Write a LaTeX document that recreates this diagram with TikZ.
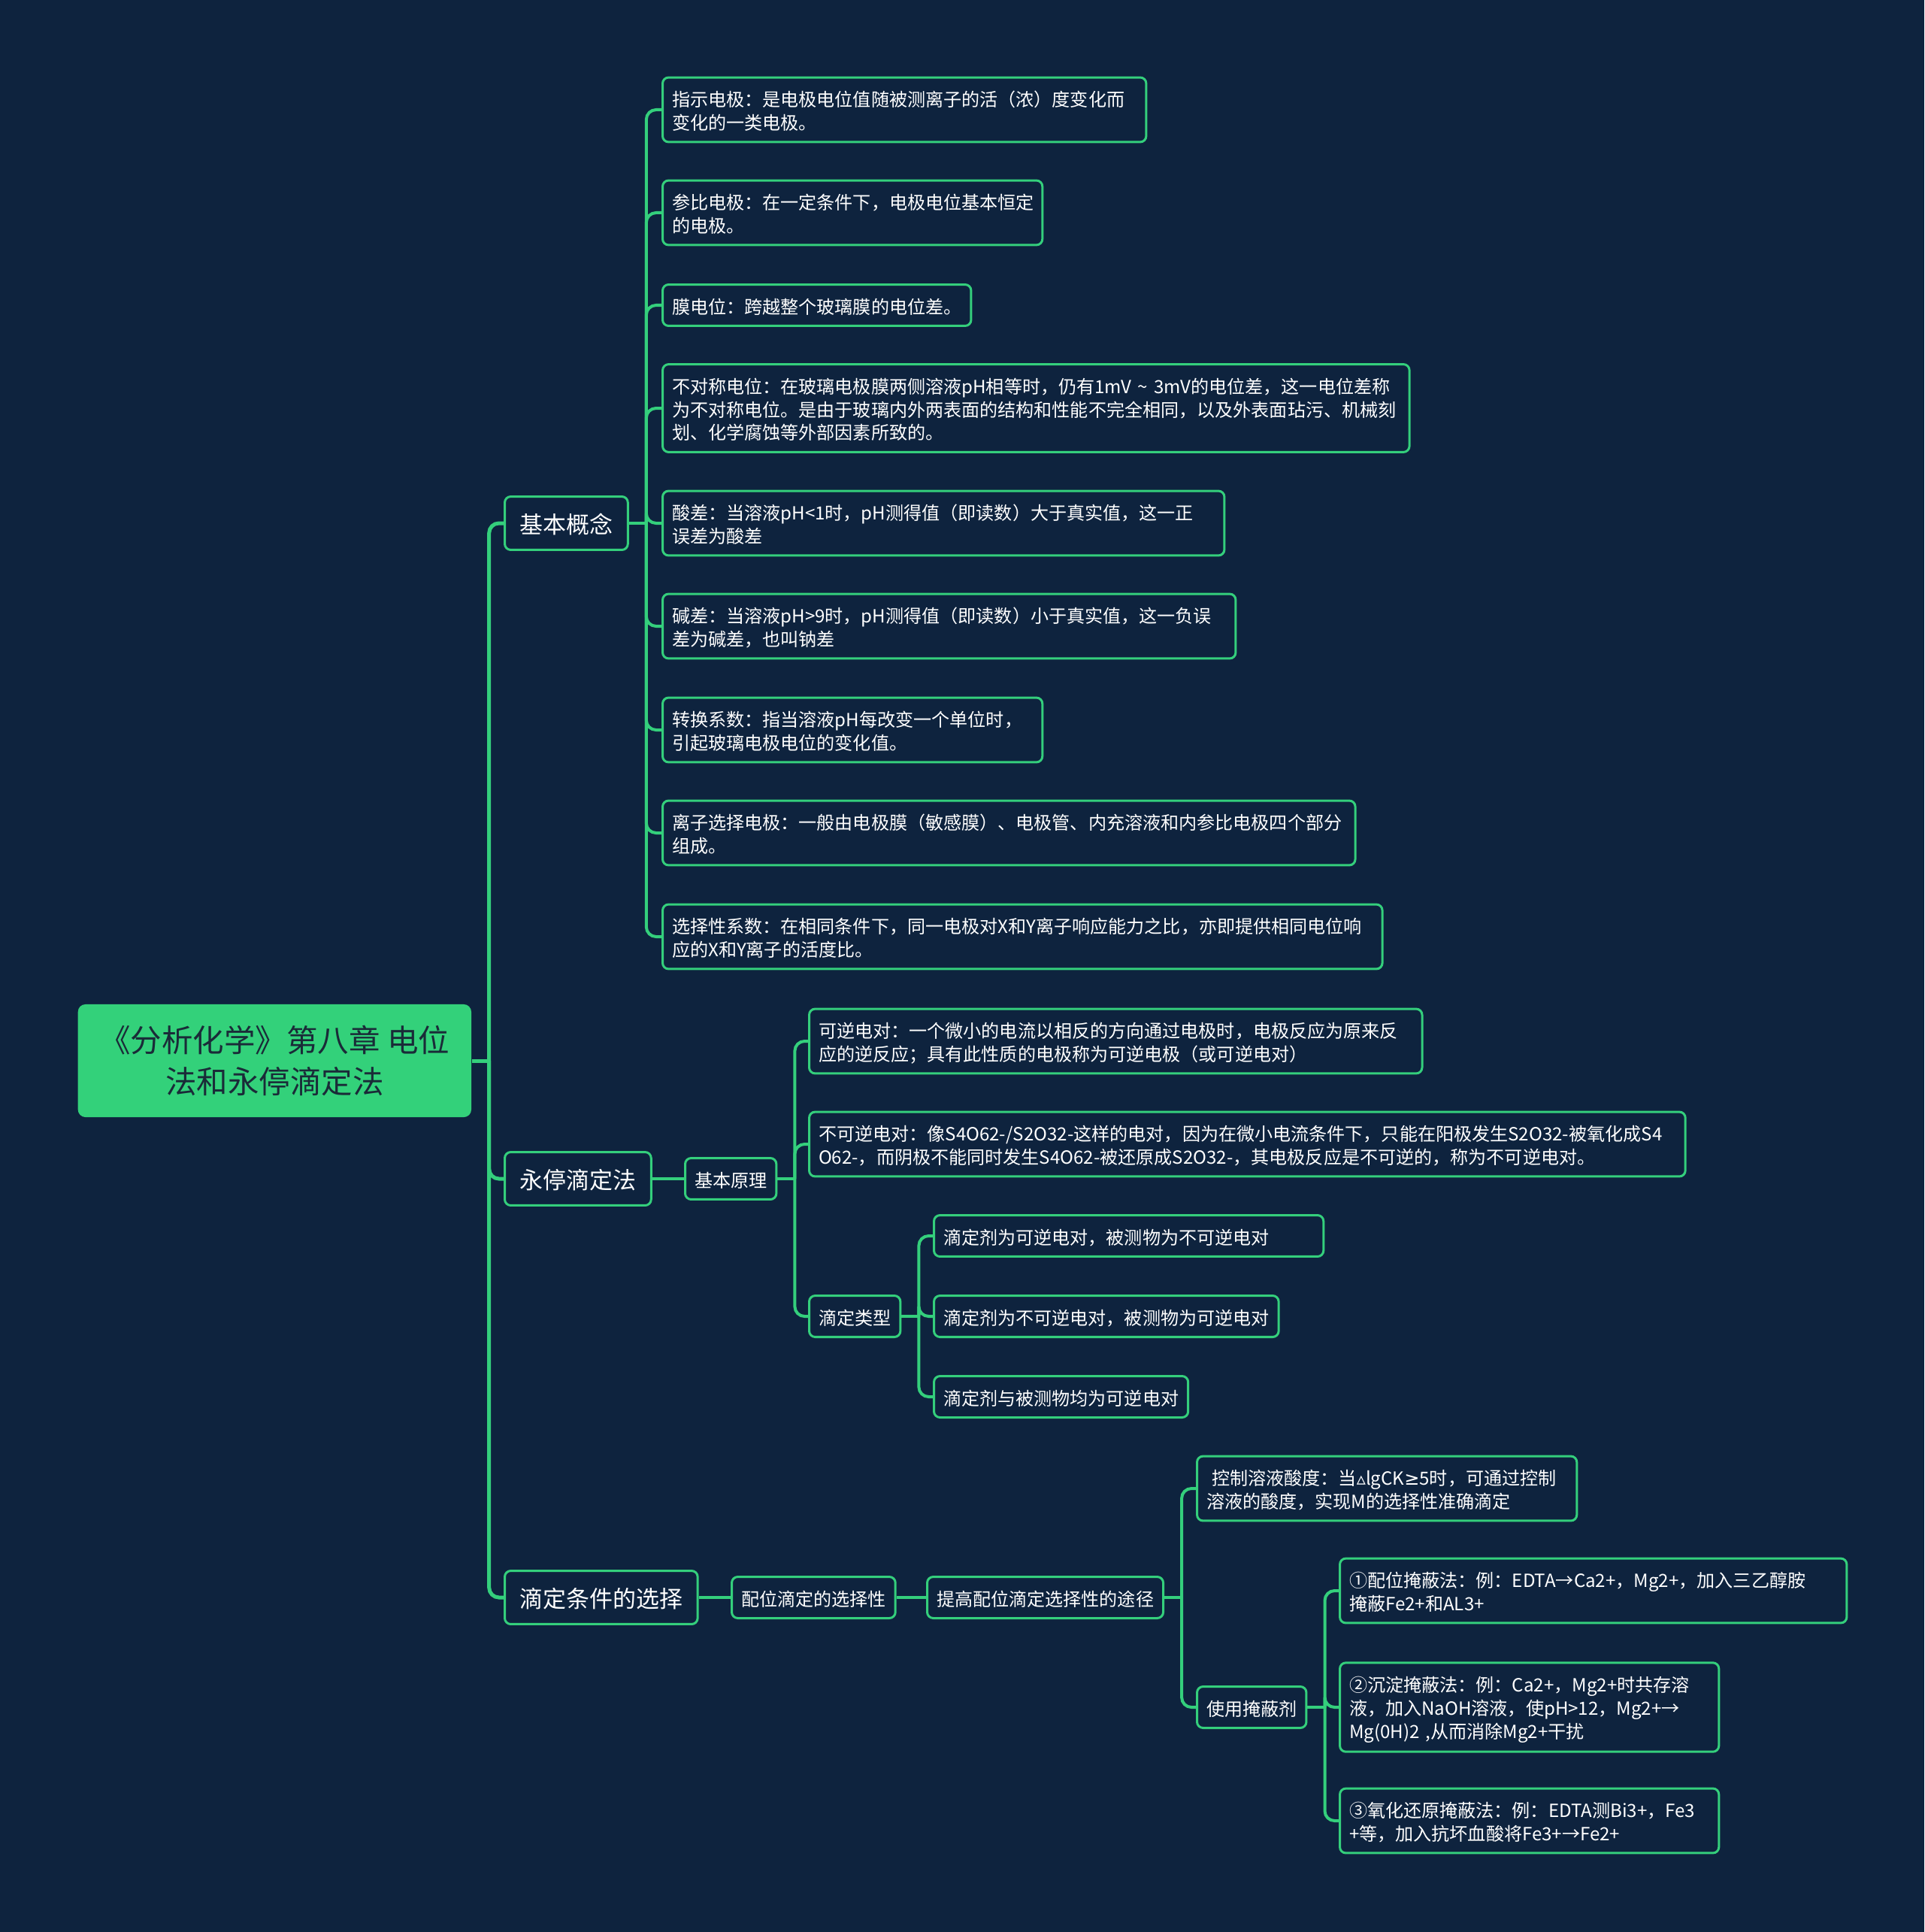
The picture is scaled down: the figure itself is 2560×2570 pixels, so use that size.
\documentclass[tikz,border=0pt]{standalone}
\usepackage{fontspec}
\setmainfont{Noto Sans CJK SC}
\newfontfamily\symbolfont{DejaVu Sans}

\begin{document}
\begin{tikzpicture}[x=0.01cm, y=-0.01cm,
    box/.style={draw=lineColour, line width=0.03cm, rounded corners=0.08cm, fill=bgColour,
        text=white, inner xsep=0.125cm, inner ysep=0.12cm, anchor=west, align=left,
        font=\fontsize{6.85pt}{8.8pt}\selectfont,
        execute at begin node={\hyphenpenalty=10000\exhyphenpenalty=10000\topStrut},
        execute at end node=\bottomStrut},
    leaf/.style={box, text width=#1},
    topic/.style={box, inner xsep=0.2cm, inner ysep=0.17cm, font=\fontsize{8.8pt}{10.5pt}\selectfont},
    root/.style={fill=rootColour, rounded corners=0.1cm, text=rootText, anchor=west, align=center,
        minimum width=5.23cm, minimum height=1.5cm, font=\fontsize{11.8pt}{15.9pt}\selectfont},
    link/.style={draw=lineColour, line width=0.04cm, rounded corners=0.13cm}]
    \definecolor{bgColour}{HTML}{0E233E}
    \definecolor{lineColour}{HTML}{34CF7C}
    \definecolor{rootColour}{HTML}{33D17A}
    \definecolor{rootText}{HTML}{1A2B38}

    \def\topStrut{\vrule width 0pt height \dimexpr 0.7\baselineskip+0.2em\relax depth 0pt}
    \def\bottomStrut{\vrule width 0pt height 0pt depth \dimexpr 0.3\baselineskip-0.2em\relax}

    % Background
    \fill[bgColour] (0,0) rectangle (2560,2570);

    % Root and topics
    \node[root] (root) at (103,1411) {《分析化学》第八章 电位\\法和永停滴定法};
    \node[topic] (jiben) at (670,696) {基本概念};
    \node[topic] (yongting) at (670,1568) {永停滴定法};
    \node[topic] (tiaojian) at (670,2125) {滴定条件的选择};

    % Basic concepts
    \node[leaf=6.18cm] (zhishi) at (880,146) {指示电极：是电极电位值随被测离子的活（浓）度变化而\\变化的一类电极。};
    \node[leaf=4.80cm] (canbi) at (880,283) {参比电极：在一定条件下，电极电位基本恒定\\的电极。};
    \node[box] (mo) at (880,406) {膜电位：跨越整个玻璃膜的电位差。};
    \node[leaf=9.68cm] (buduichen) at (880,543) {不对称电位：在玻璃电极膜两侧溶液pH相等时，仍有1mV~{\char`\~}~3mV的电位差，这一电位差称\\为不对称电位。是由于玻璃内外两表面的结构和性能不完全相同，以及外表面玷污、机械刻\\划、化学腐蚀等外部因素所致的。};
    \node[leaf=7.22cm] (suancha) at (880,696) {酸差：当溶液pH<1时，pH测得值（即读数）大于真实值，这一正\\误差为酸差};
    \node[leaf=7.37cm] (jiancha) at (880,833) {碱差：当溶液pH>9时，pH测得值（即读数）小于真实值，这一负误\\差为碱差，也叫钠差};
    \node[leaf=4.80cm] (zhuanhuan) at (880,971) {转换系数：指当溶液pH每改变一个单位时，\\引起玻璃电极电位的变化值。};
    \node[leaf=8.96cm] (lizi) at (880,1108) {离子选择电极：一般由电极膜（敏感膜）、电极管、内充溶液和内参比电极四个部分\\组成。};
    \node[leaf=9.32cm] (xuanze) at (880,1246) {选择性系数：在相同条件下，同一电极对X和Y离子响应能力之比，亦即提供相同电位响\\应的X和Y离子的活度比。};

    % Dead-stop titration
    \node[box] (yuanli) at (910,1568) {基本原理};
    \node[leaf=7.90cm] (keni) at (1075,1385) {可逆电对：一个微小的电流以相反的方向通过电极时，电极反应为原来反\\应的逆反应；具有此性质的电极称为可逆电极（或可逆电对）};
    \node[leaf=11.40cm] (bukeni) at (1075,1522) {不可逆电对：像S4O62-/S2O32-这样的电对，因为在微小电流条件下，只能在阳极发生S2O32-被氧化成S4\\O62-，而阴极不能同时发生S4O62-被还原成S2O32-，其电极反应是不可逆的，称为不可逆电对。};
    \node[box] (leixing) at (1075,1751) {滴定类型};
    \node[leaf=4.93cm] (leixingA) at (1241,1644) {滴定剂为可逆电对，被测物为不可逆电对};
    \node[box] (leixingB) at (1241,1751) {滴定剂为不可逆电对，被测物为可逆电对};
    \node[box] (leixingC) at (1241,1858) {滴定剂与被测物均为可逆电对};

    % Choice of titration conditions
    \node[box] (peiwei) at (972,2125) {配位滴定的选择性};
    \node[box] (tigao) at (1232,2125) {提高配位滴定选择性的途径};
    \node[leaf=4.80cm] (kongzhi) at (1591,1980) {\hspace*{0.3em}控制溶液酸度：当{\symbolfont ▵}lgCK{\symbolfont ≥}5时，可通过控制\\溶液的酸度，实现M的选择性准确滴定};
    \node[box] (yanbi) at (1591,2271) {使用掩蔽剂};
    \node[leaf=6.49cm] (yanbiA) at (1781,2116) {①配位掩蔽法：例：EDTA→Ca2+，Mg2+，加入三乙醇胺\\掩蔽Fe2+和AL3+};
    \node[leaf=4.79cm] (yanbiB) at (1781,2271) {②沉淀掩蔽法：例：Ca2+，Mg2+时共存溶\\液，加入NaOH溶液，使pH>12，Mg2+→\\Mg(0H)2 ,从而消除Mg2+干扰};
    \node[leaf=4.79cm] (yanbiC) at (1781,2422) {③氧化还原掩蔽法：例：EDTA测Bi3+，Fe3\\+等，加入抗坏血酸将Fe3+→Fe2+};

    % Fork points
    \coordinate (rootFork) at ([xshift=0.23cm]root.east);
    \coordinate (jibenFork) at ([xshift=0.23cm]jiben.east);
    \coordinate (yuanliFork) at ([xshift=0.23cm]yuanli.east);
    \coordinate (leixingFork) at ([xshift=0.23cm]leixing.east);
    \coordinate (tigaoFork) at ([xshift=0.23cm]tigao.east);
    \coordinate (yanbiFork) at ([xshift=0.23cm]yanbi.east);

    % Connectors
    \draw[link, line width=0.05cm] (root.east) -- (rootFork);
    \foreach \n in {jiben,yongting,tiaojian}
        \draw[link, line width=0.05cm] (rootFork) |- (\n.west);
    \draw[link] (jiben.east) -- (jibenFork);
    \foreach \n in {zhishi,canbi,mo,buduichen,suancha,jiancha,zhuanhuan,lizi,xuanze}
        \draw[link] (jibenFork) |- (\n.west);
    \draw[link] (yongting.east) -- (yuanli.west);
    \draw[link] (yuanli.east) -- (yuanliFork);
    \foreach \n in {keni,bukeni,leixing}
        \draw[link] (yuanliFork) |- (\n.west);
    \draw[link] (leixing.east) -- (leixingFork);
    \foreach \n in {leixingA,leixingB,leixingC}
        \draw[link] (leixingFork) |- (\n.west);
    \draw[link] (tiaojian.east) -- (peiwei.west);
    \draw[link] (peiwei.east) -- (tigao.west);
    \draw[link] (tigao.east) -- (tigaoFork);
    \foreach \n in {kongzhi,yanbi}
        \draw[link] (tigaoFork) |- (\n.west);
    \draw[link] (yanbi.east) -- (yanbiFork);
    \foreach \n in {yanbiA,yanbiB,yanbiC}
        \draw[link] (yanbiFork) |- (\n.west);

\end{tikzpicture}
\end{document}
